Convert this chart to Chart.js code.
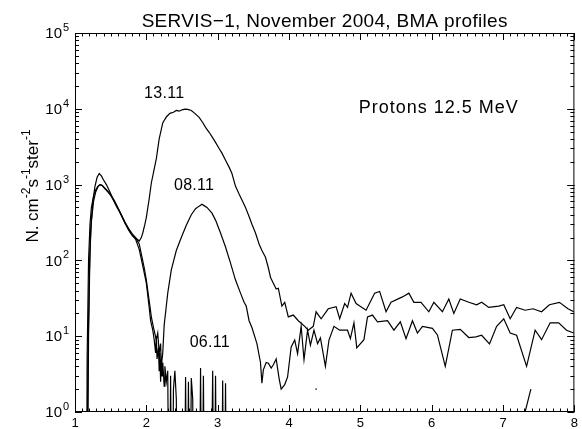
<!DOCTYPE html>
<html>
<head>
<meta charset="utf-8">
<script src="https://cdn.jsdelivr.net/npm/chart.js@4.4.1/dist/chart.umd.min.js"></script>
<style>
  body { margin: 0; background: #fff; }
  #wrap { width: 582px; height: 429px; }
</style>
</head>
<body>
<div id="wrap"><canvas id="bma"></canvas></div>
<script>
// SERVIS-1 BMA, protons 12.5 MeV: flux vs L
// 0.01 = counts dropped to zero (falls below the axis), null = no data
const l1311 = [1.16, 1.18, 1.20, 1.22, 1.25, 1.28, 1.31, 1.34, 1.37, 1.40, 1.44, 1.49, 1.54, 1.58, 1.63, 1.67, 1.72, 1.76, 1.81, 1.86,
  1.90, 1.93, 1.95, 1.98, 2.00, 2.04, 2.07, 2.11, 2.14, 2.18, 2.23, 2.28, 2.33, 2.38, 2.42, 2.46, 2.50, 2.54, 2.58, 2.63,
  2.68, 2.74, 2.79, 2.83, 2.88, 2.92, 2.97, 3.02, 3.06, 3.11, 3.16, 3.20, 3.25, 3.30, 3.35, 3.39, 3.44, 3.48, 3.53, 3.58,
  3.62, 3.67, 3.71, 3.74, 3.78, 3.82, 3.85, 3.90, 3.94, 3.99, 4.06, 4.13, 4.22, 4.27, 4.34, 4.38, 4.45, 4.55, 4.66, 4.71,
  4.78, 4.82, 4.87, 4.94, 5.08, 5.20, 5.27, 5.36, 5.43, 5.59, 5.68, 5.75, 5.85, 5.96, 6.03, 6.15, 6.24, 6.31, 6.40, 6.52,
  6.63, 6.70, 6.80, 6.94, 7.01, 7.10, 7.19, 7.31, 7.42, 7.54, 7.65, 7.79, 7.91, 7.99];
const f1311 = [0.01, 4, 60, 250, 600, 950, 1250, 1400, 1300, 1150, 1000, 800, 620, 520, 430, 360, 290, 245, 210, 195,
  180, 200, 230, 300, 370, 650, 1050, 1600, 2200, 4000, 6500, 7800, 8700, 9000, 9500, 9300, 9700, 9900, 9800, 9500,
  8700, 7700, 6600, 5700, 4900, 4300, 3600, 3000, 2600, 2100, 1700, 1400, 950, 750, 600, 500, 380, 300, 230, 165,
  135, 110, 80, 60, 50, 42, 43, 25, 28, 18, 19, 16, 13.5, 12, 13.5, 21, 17, 23, 24.5, 17,
  27, 24, 37, 27, 22, 37, 39, 21, 28, 33, 37, 28, 28, 21, 28, 21, 31, 20, 31, 28,
  26, 28, 24, 25, 26, 17, 24, 22, 23, 21, 26, 28, 23, 21];

const l0811 = [1.17, 1.19, 1.21, 1.23, 1.26, 1.29, 1.32, 1.35, 1.38, 1.42, 1.46, 1.50, 1.55, 1.60, 1.65, 1.70, 1.75, 1.80, 1.85, 1.90,
  1.94, 1.97, 2.00, 2.02, 2.05, 2.07, 2.10, 2.14, 2.16, 2.18, 2.20, 2.21, 2.23, 2.25, 2.28, 2.30, 2.35, 2.42, 2.49, 2.56,
  2.63, 2.69, 2.74, 2.78, 2.82, 2.85, 2.92, 2.97, 3.04, 3.11, 3.18, 3.25, 3.32, 3.37, 3.40, 3.44, 3.48, 3.55, 3.60, 3.62,
  3.64, 3.68, 3.71, 3.75, 3.78, 3.82, 3.86, 3.89, 3.94, 3.98, 4.03, 4.08, 4.12, 4.17, 4.21, 4.26, 4.30, 4.35, 4.40, 4.44,
  4.51, 4.56, 4.63, 4.71, 4.82, 4.86, 4.91, 4.95, 5.05, 5.10, 5.17, 5.24, 5.38, 5.47, 5.56, 5.64, 5.73, 5.80, 5.87, 6.01,
  6.08, 6.19, 6.29, 6.40, 6.52, 6.62, 6.70, 6.81, 6.91, 7.01, 7.10, 7.19, 7.33, 7.45, 7.54, 7.66, 7.78, 7.89, 7.99];
const f0811 = [0.01, 10, 130, 330, 600, 800, 930, 1000, 980, 900, 820, 740, 620, 500, 400, 320, 265, 225, 200, 165,
  110, 80, 55, 40, 25, 18, 13, 9, 11, 6, 8, 4, 6, 14, 25, 37, 75, 135, 200, 290,
  400, 480, 520, 550, 520, 500, 420, 340, 230, 150, 92, 55, 37, 28, 25, 16, 13, 8, 4.5, 2.4,
  3.6, 4.5, 4.4, 3.8, 4.2, 5, 2.8, 2.0, 2.3, 2.9, 7.2, 8.9, 5.9, 13.5, 4.9, 12, 7.6, 12, 8, 9.5,
  4, 8.9, 13.5, 12, 12, 9.3, 15, 7, 9, 18, 19, 15.5, 16, 12, 15.5, 9.3, 16, 11, 13.5, 12.7,
  10.4, 4, 12, 12.3, 9.6, 9.8, 10.3, 7.9, 13.5, 17, 11, 10.3, 4, 12, 9, 15, 15, 12, 11];

const l0611 = [1.16, 1.17, 1.19, 1.21, 1.23, 1.26, 1.29, 1.32, 1.35, 1.38, 1.42, 1.46, 1.50, 1.55, 1.60, 1.65, 1.70, 1.75, 1.80, 1.85,
  1.90, 1.95, 2.00, 2.04, 2.06, 2.09, 2.11, 2.13, 2.14, 2.15, 2.17, 2.18, 2.19, 2.20, 2.21, 2.22, 2.23, 2.25, 2.26, 2.28,
  2.30, 2.32, 2.34, 2.36, 2.38, 2.40, 2.42, 2.44, 2.53, 2.55, 2.57, 2.59, 2.61, 2.63, 2.65, 2.67, 2.74, 2.76, 2.78, 2.80,
  2.82, 2.90, 2.93, 2.95, 2.97, 2.99, 3.05, 3.07, 3.09, 3.11, 3.13, 3.20, 4.37, 4.39, 4.45, 7.29, 7.39];
const f0611 = [0.01, 5, 100, 300, 500, 700, 850, 950, 1000, 970, 880, 800, 720, 600, 490, 390, 310, 255, 215, 190,
  140, 85, 50, 24, 16, 12, 9, 6, 10, 5, 7, 3.5, 6, 2.5, 5, 3, 4.5, 2.2, 4, 2.5,
  3.5, 0.01, 3, 0.01, 2, 3.5, 1.5, 0.01, 0.01, 2.9, 0.01, 2.5, 0.01, 2.8, 1.5, 0.01, 0.01, 3.8, 0.01, 3,
  0.01, 0.01, 3.5, 0.01, 3, 0.01, 0.01, 2.6, 0.01, 2.4, 0.01, null, 2.0, 2.0, null, 0.85, 2.0];

const xTicks = [1, 2, 3, 4, 5, 6, 7, 8];
const decades = [0, 1, 2, 3, 4, 5];
const curveNames = ['13.11', '08.11', '06.11', 'Protons 12.5 MeV'];
const nameL = [2.25, 2.67, 2.89, 6.1];
const nameFlux = [15700, 960, 8.3, 10200];

const FONT = "'Liberation Sans', Arial, sans-serif";

function pts(ls, fs) {
  return ls.map((l, i) => ({ x: l, y: fs[i] }));
}

// frame with inward IDL-style ticks, exponent labels and all free text
const idlFrame = {
  id: 'idlFrame',
  afterDraw(chart) {
    const { ctx, chartArea: a, scales: { x, y } } = chart;
    ctx.save();
    ctx.strokeStyle = '#000';
    ctx.fillStyle = '#000';
    ctx.lineWidth = 1;
    ctx.strokeRect(a.left + 0.5, a.top + 0.5, a.right - a.left - 1, a.bottom - a.top - 1);

    ctx.beginPath();
    for (let i = 0; i <= 70; i++) {
      const px = Math.round(x.getPixelForValue(1 + i / 10)) + 0.5;
      const len = i % 10 === 0 ? 7 : 3.5;
      ctx.moveTo(px, a.bottom); ctx.lineTo(px, a.bottom - len);
      ctx.moveTo(px, a.top); ctx.lineTo(px, a.top + len);
    }
    for (let d = 0; d < 5; d++) {
      for (let m = 1; m <= 10; m++) {
        const py = Math.round(y.getPixelForValue(m * Math.pow(10, d))) + 0.5;
        const len = (m === 1 || m === 10) ? 7 : 4;
        ctx.moveTo(a.left, py); ctx.lineTo(a.left + len, py);
        ctx.moveTo(a.right, py); ctx.lineTo(a.right - len, py);
      }
    }
    ctx.stroke();

    // y tick labels 10^n
    decades.forEach(d => {
      const py = y.getPixelForValue(Math.pow(10, d));
      ctx.font = '15px ' + FONT;
      ctx.textAlign = 'right';
      ctx.textBaseline = 'middle';
      ctx.fillText('10', a.left - 13, py + 1);
      ctx.font = '11px ' + FONT;
      ctx.textAlign = 'left';
      ctx.textBaseline = 'alphabetic';
      ctx.fillText(String(d), a.left - 12, py - 2);
    });

    // title
    ctx.font = '19px ' + FONT;
    ctx.letterSpacing = '0.3px';
    ctx.textAlign = 'center';
    ctx.textBaseline = 'alphabetic';
    ctx.fillText('SERVIS\u22121, November 2004, BMA profiles', (a.left + a.right) / 2, 27);

    // curve names
    curveNames.forEach((t, i) => {
      ctx.font = (i === 3 ? '18px ' : '16px ') + FONT;
      ctx.letterSpacing = i === 3 ? '1px' : '0.3px';
      ctx.textAlign = 'center';
      ctx.textBaseline = 'middle';
      ctx.fillText(t, x.getPixelForValue(nameL[i]), y.getPixelForValue(nameFlux[i]));
    });
    ctx.letterSpacing = '0px';

    // y axis title with superscripts
    const parts = [['N. cm', 0], ['-2', 1], ['s', 0], ['-1', 1], ['ster', 0], ['-1', 1]];
    const big = '17px ' + FONT, small = '12px ' + FONT;
    let w = 0;
    parts.forEach(p => { ctx.font = p[1] ? small : big; w += ctx.measureText(p[0]).width; });
    ctx.translate(38, 186);
    ctx.rotate(-Math.PI / 2);
    ctx.textAlign = 'left';
    ctx.textBaseline = 'alphabetic';
    let cx = -w / 2;
    parts.forEach(p => {
      ctx.font = p[1] ? small : big;
      ctx.fillText(p[0], cx, p[1] ? -8 : 0);
      cx += ctx.measureText(p[0]).width;
    });
    ctx.restore();
  }
};

const line = { borderColor: '#000', borderWidth: 1.2, pointRadius: 0, tension: 0, spanGaps: false, fill: false };

new Chart(document.getElementById('bma'), {
  type: 'line',
  data: {
    datasets: [
      Object.assign({ label: '13.11', data: pts(l1311, f1311) }, line),
      Object.assign({ label: '08.11', data: pts(l0811, f0811) }, line),
      Object.assign({ label: '06.11', data: pts(l0611, f0611) }, line)
    ]
  },
  options: {
    responsive: true,
    maintainAspectRatio: false,
    animation: false,
    layout: { padding: { top: 33, right: 4, left: 0, bottom: 0 } },
    plugins: { legend: { display: false }, tooltip: { enabled: false }, title: { display: false } },
    scales: {
      x: {
        type: 'linear',
        min: 1,
        max: 8,
        afterBuildTicks: s => { s.ticks = xTicks.map(v => ({ value: v })); },
        afterFit: s => { s.height = 17; },
        grid: { display: false, drawTicks: false },
        border: { display: false },
        ticks: { color: '#000', padding: 4, maxRotation: 0, autoSkip: false, font: { family: FONT, size: 13 } }
      },
      y: {
        type: 'logarithmic',
        min: 1,
        max: 100000,
        afterBuildTicks: s => { s.ticks = decades.map(d => ({ value: Math.pow(10, d) })); },
        afterFit: s => { s.width = 75; },
        grid: { display: false, drawTicks: false },
        border: { display: false },
        ticks: { display: false }
      }
    }
  },
  plugins: [idlFrame]
});
</script>
</body>
</html>
